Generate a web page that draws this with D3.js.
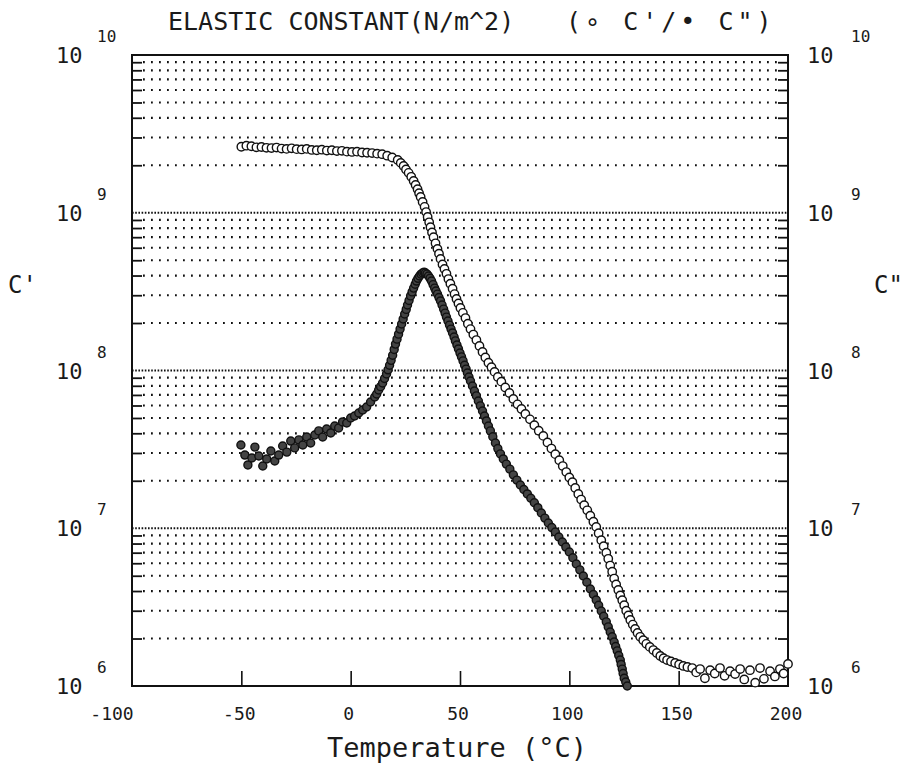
<!DOCTYPE html>
<html>
<head>
<meta charset="utf-8">
<script src="https://cdn.jsdelivr.net/npm/d3@7"></script>
<style>
  body { margin: 0; background: #fff; }
  text { font-family: "DejaVu Sans Mono", monospace; fill: #1a1a1a; }
</style>
</head>
<body>
<div id="chart"></div>
<script>
// C' (storage, open circles) : temperature (degC) and value (N/m^2)
var tempC1 = [-50, -47.7, -45.4, -43.1, -40.8, -38.5, -36.2, -33.9, -31.6, -29.3, -27, -24.7, -22.4, -20.1,
    -17.8, -15.5, -13.2, -10.9, -8.6, -6.3, -4, -1.7, 0.6, 2.9, 5.2, 7.5, 9.8, 12.1, 14.4, 16.7, 19,
    21.5, 22.9, 24.2, 25.3, 26.5, 27.7, 28.8, 29.7, 30.6, 31.3, 32, 32.9, 33.8, 34.5, 35.2, 35.9, 36.5,
    37.2, 37.9, 38.8, 39.7, 40.4, 41.1, 42, 42.9, 43.8, 44.7, 45.6, 46.6, 47.5, 48.4, 49.3, 50.2, 51.3,
    52.5, 53.6, 54.8, 56.1, 57.5, 58.9, 60.3, 61.6, 63, 64.4, 65.8, 67.3, 68.9, 70.7, 72.6, 74.4, 76.3,
    78.1, 79.9, 82, 84, 86, 88.1, 90, 91.8, 93.6, 95.4, 97, 98.6, 100, 101.4, 102.7, 104.1, 105.4, 106.8,
    108.2, 109.6, 111, 112.3, 113.4, 114.6, 115.7, 116.9, 117.8, 118.7, 119.6, 120.5, 121.4, 122.4,
    123.3, 124.2, 125.1, 126, 127, 127.9, 129, 130.1, 131.2, 132.4, 133.8, 135.2, 136.8, 138.4, 140,
    141.6, 143.1, 144.7, 146.5, 148.4, 150.2, 152.1,
    154, 156.2, 158, 159.8, 162, 164.4, 166.5, 168.9, 171, 173.5, 175.8, 178.1, 180, 182.6, 185, 187.2,
    189, 191.8, 194, 196.3, 198, 200];
var c1 = [2.62e9, 2.66e9, 2.64e9, 2.60e9, 2.61e9, 2.58e9, 2.57e9, 2.59e9, 2.55e9, 2.54e9, 2.56e9, 2.53e9,
    2.52e9, 2.54e9, 2.50e9, 2.49e9, 2.51e9, 2.48e9, 2.49e9, 2.46e9, 2.47e9, 2.44e9, 2.43e9, 2.44e9, 2.41e9,
    2.40e9, 2.39e9, 2.37e9, 2.35e9, 2.30e9, 2.24e9,
    2.16e9, 2.07e9, 1.98e9, 1.88e9, 1.79e9, 1.69e9, 1.59e9, 1.50e9, 1.41e9, 1.33e9, 1.26e9, 1.17e9, 1.09e9,
    1.01e9, 9.4e8, 8.7e8, 8.1e8, 7.5e8, 7.0e8, 6.4e8, 5.9e8, 5.5e8, 5.1e8, 4.7e8, 4.4e8, 4.1e8, 3.8e8,
    3.55e8, 3.3e8, 3.05e8, 2.84e8, 2.66e8, 2.49e8, 2.32e8, 2.15e8, 1.98e8, 1.83e8, 1.69e8, 1.56e8, 1.43e8,
    1.31e8, 1.21e8, 1.12e8, 1.05e8, 9.8e7, 9.1e7, 8.5e7, 7.8e7, 7.2e7, 6.6e7, 6.1e7, 5.7e7, 5.3e7, 4.9e7,
    4.5e7, 4.15e7, 3.85e7, 3.5e7, 3.2e7, 2.95e7, 2.7e7, 2.48e7, 2.27e7, 2.1e7, 1.96e7, 1.8e7, 1.65e7,
    1.52e7, 1.40e7, 1.30e7, 1.20e7, 1.10e7, 1.02e7, 9.3e6, 8.4e6, 7.7e6, 7.0e6, 6.4e6, 5.8e6, 5.3e6, 4.8e6,
    4.4e6, 4.06e6, 3.75e6, 3.5e6, 3.25e6, 3.0e6, 2.8e6, 2.62e6, 2.45e6, 2.30e6, 2.17e6, 2.05e6, 1.95e6,
    1.85e6, 1.77e6, 1.69e6, 1.62e6, 1.55e6, 1.50e6, 1.46e6, 1.43e6, 1.40e6, 1.37e6, 1.34e6,
    1.32e6, 1.30e6, 1.22e6, 1.28e6, 1.12e6, 1.26e6, 1.20e6, 1.30e6, 1.16e6, 1.24e6, 1.19e6, 1.28e6, 1.10e6,
    1.26e6, 1.05e6, 1.30e6, 1.11e6, 1.24e6, 1.15e6, 1.28e6, 1.20e6, 1.38e6];

// C" (loss, filled circles)
var tempC2 = [-50.2, -48.4, -47, -45.2, -43.8, -42, -40.2, -38.4, -36.5, -34.7, -32.9, -31.1, -29.2,
    -27.4, -25.6, -23.7, -21.9, -20.1, -18.3, -16.4, -14.6, -12.8, -11, -9.1, -7.3, -5.5, -3.7, -1.8,
    0, 1.8, 3.7, 5.5, 7.3, 9.1,
    11, 11.9, 12.8, 13.7, 14.6, 15.5, 16.4, 17.1, 17.8, 18.5, 19.2, 19.9, 20.5, 21.2, 21.9, 22.6, 23.3,
    24, 24.7, 25.4, 26, 26.7, 27.4, 28.1, 28.8, 29.5, 30.1, 30.8, 31.5, 32.2, 32.9, 33.6, 34.2, 34.9,
    35.6, 36.3, 37, 37.7, 38.4, 39, 39.7, 40.4, 41.1, 41.8, 42.5, 43.2, 43.8, 44.5, 45.2, 45.9, 46.6,
    47.3, 47.9, 48.6, 49.3, 50, 50.7, 51.4, 52.1, 52.8, 53.4, 54.1, 54.8, 55.7, 56.6, 57.5, 58.4, 59.3,
    60.3, 61.2, 62.1, 63, 63.9, 65, 66.2, 67.3, 68.5, 69.8, 71.2, 72.8, 74.4, 76, 77.6, 79.2, 80.8, 82.4,
    84, 85.6, 87.2, 88.8, 90.4, 92, 93.6, 95.2, 96.8, 98.4, 100, 101.6, 103.2, 104.8, 106.4, 108, 109.6,
    111, 112.3, 113.4, 114.6, 115.7, 116.9, 117.8, 118.7, 119.6, 120.5, 121.2, 121.9, 122.6, 123.3,
    123.7, 124.2, 124.6, 125.1, 125.8, 126.5];
var c2 = [3.37e7, 2.91e7, 2.52e7, 2.79e7, 3.27e7, 2.87e7, 2.48e7, 2.75e7, 3.09e7, 2.67e7, 2.91e7, 3.32e7,
    3.04e7, 3.57e7, 3.23e7, 3.63e7, 3.37e7, 3.79e7, 3.47e7, 3.90e7, 4.14e7, 3.79e7, 4.26e7, 4.02e7,
    4.45e7, 4.32e7, 4.72e7, 4.65e7, 5.00e7, 5.15e7, 5.38e7, 5.62e7, 5.87e7, 6.31e7,
    6.79e7, 7.1e7, 7.52e7, 7.9e7, 8.33e7, 8.9e7, 9.50e7, 1.01e8, 1.08e8, 1.16e8, 1.25e8, 1.36e8, 1.47e8,
    1.58e8, 1.70e8, 1.83e8, 1.97e8, 2.12e8, 2.28e8, 2.44e8, 2.60e8, 2.78e8, 2.97e8, 3.15e8, 3.33e8,
    3.52e8, 3.69e8, 3.84e8, 3.97e8, 4.08e8, 4.15e8, 4.2e8, 4.15e8, 4.08e8, 3.97e8, 3.84e8, 3.69e8, 3.5e8,
    3.33e8, 3.19e8, 3.05e8, 2.9e8, 2.76e8, 2.6e8, 2.45e8, 2.31e8, 2.18e8, 2.06e8, 1.94e8, 1.83e8, 1.73e8,
    1.63e8, 1.54e8, 1.45e8, 1.37e8, 1.29e8, 1.22e8, 1.15e8, 1.08e8, 1.02e8, 9.64e7, 9.1e7, 8.58e7,
    7.97e7, 7.41e7, 6.9e7, 6.41e7, 5.97e7, 5.54e7, 5.15e7, 4.79e7, 4.45e7, 4.14e7, 3.8e7, 3.47e7, 3.2e7,
    2.96e7, 2.75e7, 2.55e7, 2.37e7, 2.18e7, 2.02e7, 1.88e7, 1.76e7, 1.65e7, 1.55e7, 1.45e7, 1.35e7,
    1.25e7, 1.16e7, 1.08e7, 1.01e7, 9.47e6, 8.8e6, 8.18e6, 7.6e6, 7.07e6, 6.5e6, 5.93e6, 5.45e6, 4.98e6,
    4.55e6, 4.12e6, 3.8e6, 3.51e6, 3.25e6, 2.99e6, 2.77e6, 2.55e6, 2.37e6, 2.20e6, 2.05e6, 1.90e6,
    1.78e6, 1.67e6, 1.56e6, 1.46e6, 1.37e6, 1.28e6, 1.2e6, 1.12e6, 1.06e6, 1.0e6];

var xTicks = [-100, -50, 0, 50, 100, 150, 200];
var decades = [6, 7, 8, 9, 10];

var width = 908, height = 763;
var plotLeft = 132, plotRight = 788, plotTop = 55, plotBottom = 686;

var svg = d3.select("#chart").append("svg")
    .attr("width", width)
    .attr("height", height);

var x = d3.scaleLinear().domain([-100, 200]).range([plotLeft, plotRight]);
var y = d3.scaleLog().domain([1e6, 1e10]).range([plotBottom, plotTop]);

// minor log ticks 2..9 in each decade, plus the decade lines
var minor = [];
for (var n = 6; n < 10; n++) {
    for (var k = 2; k <= 9; k++) minor.push(k * Math.pow(10, n));
}
var major = [1e7, 1e8, 1e9];

/* grid */
svg.append("g").selectAll("line")
    .data(minor).enter().append("line")
    .attr("x1", plotLeft + 11).attr("x2", plotRight - 11)
    .attr("y1", function (d) { return y(d) }).attr("y2", function (d) { return y(d) })
    .attr("stroke", "#111").attr("stroke-width", 2.2)
    .attr("stroke-dasharray", "1.8,6.2");

svg.append("g").selectAll("line")
    .data(major).enter().append("line")
    .attr("x1", plotLeft).attr("x2", plotRight)
    .attr("y1", function (d) { return y(d) }).attr("y2", function (d) { return y(d) })
    .attr("stroke", "#111").attr("stroke-width", 2)
    .attr("stroke-dasharray", "1.6,1.6");

/* axes ticks, inward */
svg.append("g").attr("transform", "translate(" + plotLeft + ",0)")
    .call(d3.axisRight(y).tickValues(minor).tickSize(10).tickFormat(""))
    .call(function (g) { g.select(".domain").remove() })
    .selectAll("line").attr("stroke", "#111").attr("stroke-width", 1.8);

svg.append("g").attr("transform", "translate(" + plotRight + ",0)")
    .call(d3.axisLeft(y).tickValues(minor).tickSize(10).tickFormat(""))
    .call(function (g) { g.select(".domain").remove() })
    .selectAll("line").attr("stroke", "#111").attr("stroke-width", 1.8);

svg.append("g").attr("transform", "translate(0," + plotBottom + ")")
    .call(d3.axisTop(x).tickValues([-50, 0, 50, 100, 150]).tickSize(15).tickFormat(""))
    .call(function (g) { g.select(".domain").remove() })
    .selectAll("line").attr("stroke", "#111").attr("stroke-width", 1.6);

// frame
svg.append("rect")
    .attr("x", plotLeft).attr("y", plotTop)
    .attr("width", plotRight - plotLeft).attr("height", plotBottom - plotTop)
    .attr("fill", "none").attr("stroke", "#111").attr("stroke-width", 2);

/* data markers */
var pts1 = tempC1.map(function (t, i) { return { t: t, v: c1[i] } });
var pts2 = tempC2.map(function (t, i) { return { t: t, v: c2[i] } });

svg.append("g").selectAll("circle")
    .data(pts1).enter().append("circle")
    .attr("cx", function (d) { return x(d.t) })
    .attr("cy", function (d) { return y(d.v) })
    .attr("r", 4.2)
    .attr("fill", "#fff").attr("stroke", "#111").attr("stroke-width", 1.4);

svg.append("g").selectAll("circle")
    .data(pts2).enter().append("circle")
    .attr("cx", function (d) { return x(d.t) })
    .attr("cy", function (d) { return y(d.v) })
    .attr("r", 4)
    .attr("fill", "#444").attr("stroke", "#111").attr("stroke-width", 1.4);

/* labels */
svg.append("text").attr("x", 168).attr("y", 30)
    .attr("font-size", 25).text("ELASTIC CONSTANT(N/m^2)");
svg.append("text").attr("x", 566).attr("y", 30)
    .attr("font-size", 25).attr("letter-spacing", 4)
    .text("(\u2218 C'/\u2022 C\")");

svg.selectAll("text.xt")
    .data(xTicks).enter().append("text")
    .attr("class", "xt")
    .attr("x", function (d) { return d == -100 ? x(d) - 20 : x(d) - 2 })
    .attr("y", 720)
    .attr("text-anchor", "middle")
    .attr("font-size", 18)
    .text(function (d) { return d < 0 ? "-" + Math.abs(d) : d });

svg.append("text").attr("x", 457).attr("y", 757)
    .attr("text-anchor", "middle").attr("font-size", 27)
    .text("Temperature (\u00b0C)");

// decade labels both sides
decades.forEach(function (n) {
    var yy = y(Math.pow(10, n));
    [[56, 97], [807, 851]].forEach(function (p) {
        svg.append("text").attr("x", p[0]).attr("y", yy + 8)
            .attr("font-size", 22).text("10");
        svg.append("text").attr("x", p[1]).attr("y", yy - 13)
            .attr("font-size", 16).text(n);
    });
});

svg.append("text").attr("x", 8).attr("y", 293).attr("font-size", 24).text("C'");
svg.append("text").attr("x", 874).attr("y", 293).attr("font-size", 24).text("C\"");
</script>
</body>
</html>
